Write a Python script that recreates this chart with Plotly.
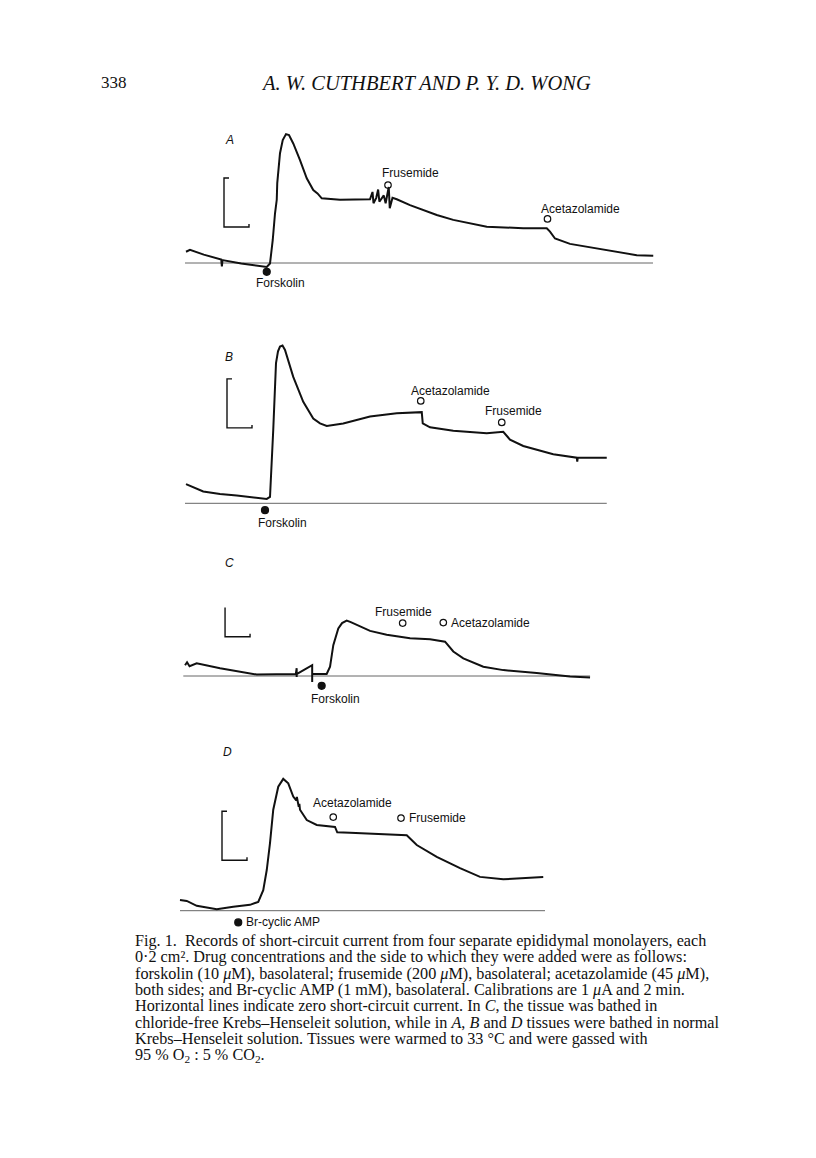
import plotly.graph_objects as go

# The page body has an 8 px margin, so the figure is drawn 8 px smaller and placed with that offset.
PAGE_OFF = 8
FW, FH = 816 - PAGE_OFF, 1158 - PAGE_OFF
PX_PER_MIN = 12.5   # horizontal scale of the recordings (2 min calibration = 25 px)
PX_PER_UA = 49.0    # vertical scale (1 uA calibration = 49 px)

# ---------------- data (time in min, short-circuit current in uA) ----------------
# Panel A
a_t = [0.08, 0.4, 1.5, 2.9, 2.95, 3.0, 4.5, 5.74, 6.54, 6.8, 7.02, 7.2, 7.34, 7.38, 7.6, 7.82, 8.08,
       8.32, 8.66, 9.2, 9.74, 10.26, 10.6, 10.94, 12.4, 14.8, 15.0, 15.08, 15.3, 15.45, 15.55, 15.9,
       16.05, 16.3, 16.38, 16.6, 16.94, 18.0, 20.14, 21.46, 24.14, 27.06, 28.94, 29.2, 29.6, 30.8,
       33.46, 36.14, 37.46]
a_i = [0.23, 0.27, 0.17, 0.07, -0.07, 0.06, -0.01, -0.06, -0.08, -0.01, 0.47, 1.01, 1.29, 1.63, 2.24, 2.51, 2.63,
       2.61, 2.44, 2.10, 1.73, 1.49, 1.42, 1.32, 1.29, 1.30, 1.45, 1.22, 1.33, 1.50, 1.25, 1.38,
       1.22, 1.55, 1.12, 1.33, 1.30, 1.18, 0.98, 0.88, 0.74, 0.71, 0.71, 0.64, 0.50, 0.39,
       0.27, 0.16, 0.15]
a_zero_end = 37.44
a_ev_names = ["Forskolin", "Frusemide", "Acetazolamide"]
a_ev_t = [6.54, 16.24, 29.0]
a_ev_i = [-0.18, 1.59, 0.90]
a_ev_filled = [True, False, False]

# Panel B
b_t = [0.08, 1.46, 2.8, 4.14, 6.54, 6.8, 7.06, 7.28, 7.44, 7.6, 7.8, 8.0, 8.66, 9.46, 10.26, 10.8,
       11.34, 12.66, 14.8, 16.94, 18.94, 19.02, 19.6, 21.46, 24.14, 25.46, 26.0, 27.06, 29.46,
       30.8, 31.34, 31.38, 31.42, 33.74]
b_i = [0.39, 0.24, 0.19, 0.16, 0.09, 0.13, 1.50, 2.86, 3.10, 3.20, 3.22, 3.13, 2.58, 2.07, 1.73, 1.63,
       1.58, 1.63, 1.77, 1.84, 1.86, 1.63, 1.55, 1.48, 1.43, 1.46, 1.30, 1.17, 1.00,
       0.94, 0.93, 0.85, 0.93, 0.93]
b_zero_end = 33.74
b_ev_names = ["Forskolin", "Acetazolamide", "Frusemide"]
b_ev_t = [6.4, 18.86, 25.34]
b_ev_i = [-0.14, 2.09, 1.65]
b_ev_filled = [True, False, False]

# Panel C
c_t = [0.14, 0.3, 0.5, 1.07, 2.94, 5.07, 5.87, 9.0, 9.07, 9.07, 9.07, 10.31, 10.31, 10.31, 11.47,
       11.74, 12.0, 12.4, 12.7, 13.07, 13.4, 13.87, 14.94, 16.27, 18.14, 19.74, 20.94, 21.6, 22.4,
       24.0, 25.6, 28.27, 30.94, 32.54]
c_i = [0.22, 0.28, 0.20, 0.26, 0.16, 0.06, 0.03, 0.04, 0.16, -0.02, 0.04, 0.22, -0.12, 0.04, 0.04,
       0.19, 0.63, 0.97, 1.08, 1.13, 1.10, 1.04, 0.92, 0.84, 0.77, 0.75, 0.70, 0.50, 0.36,
       0.19, 0.12, 0.06, -0.01, -0.03]
c_zero_end = 32.54
c_ev_names = ["Forskolin", "Frusemide", "Acetazolamide"]
c_ev_t = [11.07, 17.55, 20.8]
c_ev_i = [-0.2, 1.08, 1.09]
c_ev_filled = [True, False, False]

# Panel D
d_t = [0.0, 0.54, 1.34, 2.94, 4.26, 5.34, 5.6, 6.26, 6.66, 6.94, 7.2, 7.46, 7.86, 8.26, 8.66, 9.06,
       9.3, 9.35, 9.5, 9.55, 9.6, 10.14, 10.94, 12.4, 12.58, 13.6, 16.54, 18.14, 18.94, 20.54, 22.4,
       24.0, 25.86, 27.46, 29.06]
d_i = [0.22, 0.20, 0.10, 0.03, 0.08, 0.11, 0.12, 0.18, 0.42, 0.83, 1.38, 2.06, 2.53, 2.69, 2.60, 2.33,
       2.25, 2.32, 2.12, 2.18, 2.06, 1.85, 1.75, 1.71, 1.60, 1.59, 1.56, 1.54, 1.34, 1.10, 0.87,
       0.69, 0.64, 0.66, 0.69]
d_zero_end = 29.2
d_ev_names = ["Br-cyclic AMP", "Acetazolamide", "Frusemide"]
d_ev_t = [4.66, 12.26, 17.68]
d_ev_i = [-0.24, 1.91, 1.89]
d_ev_filled = [True, False, False]

# calibration: 1 uA and 2 min
cal_min = 2.0
cal_ua = 1.0


def px(X, Y):
    """page pixel -> paper fraction"""
    return (X - PAGE_OFF) / FW, 1 - (Y - PAGE_OFF) / FH


# ---------------- layout / style (pixel placement on the page) ----------------
panels = [
    dict(t=a_t, i=a_i, zero=a_zero_end, names=a_ev_names, et=a_ev_t, ei=a_ev_i, filled=a_ev_filled,
         origin=(185, 263), irange=(-0.4, 2.9), cal=(3.12, 0.735), letter="A", letter_px=(229, 140),
         offs=[(14, -11, "center"), (22, 12, "center"), (33, 10, "center")]),
    dict(t=b_t, i=b_i, zero=b_zero_end, names=b_ev_names, et=b_ev_t, ei=b_ev_i, filled=b_ev_filled,
         origin=(185, 503.3), irange=(-0.4, 3.4), cal=(3.36, 1.54), letter="B", letter_px=(229, 357),
         offs=[(17, -13, "center"), (30, 10, "center"), (12, 11, "center")]),
    dict(t=c_t, i=c_i, zero=c_zero_end, names=c_ev_names, et=c_ev_t, ei=c_ev_i, filled=c_ev_filled,
         origin=(183.3, 676), irange=(-0.4, 1.4), cal=(3.34, 0.80), letter="C", letter_px=(229, 563),
         offs=[(14, -13, "center"), (1, 11, "center"), (6, 0, "left")]),
    dict(t=d_t, i=d_i, zero=d_zero_end, names=d_ev_names, et=d_ev_t, ei=d_ev_i, filled=d_ev_filled,
         origin=(180, 910.7), irange=(-0.4, 2.9), cal=(3.36, 1.03), letter="D", letter_px=(227, 752),
         offs=[(6, 0, "left"), (19, 14, "center"), (6, 0, "left")]),
]

INK = "#111111"
SANS = "Liberation Sans, Arial, sans-serif"
SERIF = "Liberation Serif, Times New Roman, serif"

fig = go.Figure()
annotations = []
layout_axes = {}

for k, p in enumerate(panels, start=1):
    xs = "x" if k == 1 else f"x{k}"
    ys = "y" if k == 1 else f"y{k}"
    xL, yz = p["origin"]
    t0, t1 = -1.0, p["zero"] + 1.0
    i0, i1 = p["irange"]
    dx0, dy0 = px(xL + t0 * PX_PER_MIN, yz - i0 * PX_PER_UA)
    dx1, dy1 = px(xL + t1 * PX_PER_MIN, yz - i1 * PX_PER_UA)
    axname_x = "xaxis" if k == 1 else f"xaxis{k}"
    axname_y = "yaxis" if k == 1 else f"yaxis{k}"
    layout_axes[axname_x] = dict(domain=[dx0, dx1], range=[t0, t1], visible=False, fixedrange=True,
                                 anchor=ys)
    layout_axes[axname_y] = dict(domain=[dy0, dy1], range=[i0, i1], visible=False, fixedrange=True,
                                 anchor=xs)

    # zero current line
    fig.add_trace(go.Scatter(x=[0, p["zero"]], y=[0, 0], mode="lines", xaxis=xs, yaxis=ys,
                             line=dict(color="#666666", width=1), hoverinfo="skip", showlegend=False))
    # recording
    fig.add_trace(go.Scatter(x=p["t"], y=p["i"], mode="lines", xaxis=xs, yaxis=ys,
                             line=dict(color=INK, width=2), hoverinfo="skip", showlegend=False))
    # calibration bracket
    ct, ci = p["cal"]
    tick_t = 0.4
    tick_i = 0.06
    fig.add_trace(go.Scatter(
        x=[ct + tick_t, ct, ct, ct + cal_min, ct + cal_min],
        y=[ci + cal_ua, ci + cal_ua, ci, ci, ci + tick_i],
        mode="lines", xaxis=xs, yaxis=ys, line=dict(color=INK, width=1.4),
        hoverinfo="skip", showlegend=False))
    # drug additions
    for name, et, ei, filled, (ox, oy, xa) in zip(p["names"], p["et"], p["ei"], p["filled"], p["offs"]):
        fig.add_trace(go.Scatter(
            x=[et], y=[ei], mode="markers", xaxis=xs, yaxis=ys,
            marker=dict(symbol="circle" if filled else "circle-open", size=7 if filled else 6.5,
                        color=INK, line=dict(color=INK, width=1.2)),
            hoverinfo="skip", showlegend=False))
        annotations.append(dict(x=et, y=ei, xref=xs, yref=ys, text=name, showarrow=False,
                                xshift=ox, yshift=oy, xanchor=xa, yanchor="middle",
                                font=dict(family=SANS, size=12, color=INK)))
    lx, ly = px(*p["letter_px"])
    annotations.append(dict(x=lx, y=ly, xref="paper", yref="paper",
                            text=f"<i>{p['letter']}</i>", showarrow=False,
                            xanchor="center", yanchor="middle",
                            font=dict(family=SANS, size=12, color=INK)))

# page header
hx, hy = px(99, 83)
annotations.append(dict(x=hx, y=hy, xref="paper", yref="paper", text="338",
                        showarrow=False, xanchor="left", yanchor="middle",
                        font=dict(family=SERIF, size=17, color=INK)))
hx, hy = px(259, 83)
annotations.append(dict(x=hx, y=hy, xref="paper", yref="paper",
                        text="<i>A. W. CUTHBERT AND P. Y. D. WONG</i>",
                        showarrow=False, xanchor="left", yanchor="middle",
                        font=dict(family=SERIF, size=20.5, color=INK)))

# caption
caption_lines = [
    "Fig. 1.  Records of short-circuit current from four separate epididymal monolayers, each",
    "0·2 cm². Drug concentrations and the side to which they were added were as follows:",
    "forskolin (10 <i>μ</i>M), basolateral; frusemide (200 <i>μ</i>M), basolateral; acetazolamide (45 <i>μ</i>M),",
    "both sides; and Br-cyclic AMP (1 mM), basolateral. Calibrations are 1 <i>μ</i>A and 2 min.",
    "Horizontal lines indicate zero short-circuit current. In <i>C</i>, the tissue was bathed in",
    "chloride-free Krebs–Henseleit solution, while in <i>A</i>, <i>B</i> and <i>D</i> tissues were bathed in normal",
    "Krebs–Henseleit solution. Tissues were warmed to 33 °C and were gassed with",
    "95 % O<sub>2</sub> : 5 % CO<sub>2</sub>.",
]
cap_y0, cap_dy = 941, 16.35
for n, line in enumerate(caption_lines):
    cx, cy = px(133, cap_y0 + n * cap_dy)
    annotations.append(dict(x=cx, y=cy, xref="paper", yref="paper",
                            text=line, showarrow=False, xanchor="left", yanchor="middle",
                            font=dict(family=SERIF, size=16.2, color=INK)))

fig.update_layout(width=FW, height=FH, margin=dict(l=0, r=0, t=0, b=0),
                  paper_bgcolor="white", plot_bgcolor="rgba(0,0,0,0)",
                  annotations=annotations, showlegend=False, **layout_axes)

fig.write_html("out.html")
